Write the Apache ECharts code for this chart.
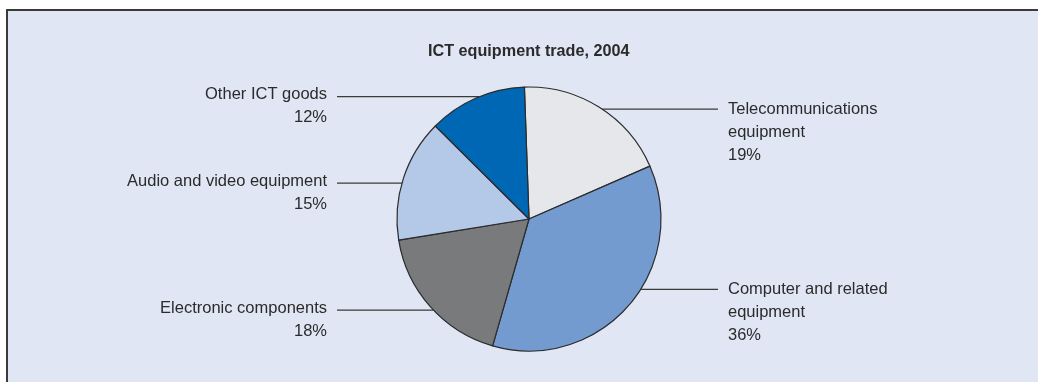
<!DOCTYPE html>
<html>
<head>
<meta charset="utf-8">
<script src="https://cdn.jsdelivr.net/npm/echarts@6/dist/echarts.min.js"></script>
<style>
  html, body { margin: 0; padding: 0; background: #ffffff; width: 1038px; height: 382px; overflow: hidden; }
  #frame { position: absolute; left: 6px; top: 9px; width: 1040px; height: 380px;
           background: #e0e6f4; border-top: 2px solid #3a3a3a; border-left: 2px solid #3a3a3a; }
  #chart { position: absolute; left: 0; top: 0; width: 1038px; height: 382px; }
</style>
</head>
<body>
<div id="frame"></div>
<div id="chart"></div>
<script>
// ---- data ----
const titleText = 'ICT equipment trade, 2004';
const categories = [
  'Telecommunications\nequipment',
  'Computer and related\nequipment',
  'Electronic components',
  'Audio and video equipment',
  'Other ICT goods'
];
const shares = [19, 36, 18, 15, 12];
const sliceColors = ['#e6e7ea', '#739bd0', '#797a7c', '#b4c8e8', '#0067b4'];

// ---- layout (not data) ----
const CX = 529, CY = 219, R = 132;
const leaderAngleShift = [1.4, -9, -2, -2, 1.5]; // degrees, clockwise
const FONT = "'Liberation Sans Narrow', 'Arial Narrow', 'Liberation Sans', sans-serif";
const FS = 16.5, LH = 23;

const chart = echarts.init(document.getElementById('chart'), null, { renderer: 'canvas' });

const option = {
  backgroundColor: 'transparent',
  animation: false,
  title: {
    text: titleText,
    left: 423,
    top: 39,
    textStyle: { fontFamily: FONT, fontSize: 16.2, fontWeight: 'bold', color: '#2b2b2b' }
  },
  series: [{
    type: 'pie',
    center: [CX, CY],
    radius: R,
    startAngle: 92,
    clockwise: true,
    silent: true,
    data: categories.map((c, i) => ({ name: c, value: shares[i], itemStyle: { color: sliceColors[i] } })),
    itemStyle: { borderColor: '#2b2b2b', borderWidth: 1.2 },
    label: {
      show: true,
      position: 'outside',
      formatter: p => p.name + '\n' + p.value + '%',
      fontFamily: FONT,
      fontSize: FS,
      lineHeight: LH,
      color: '#2b2b2b'
    },
    labelLine: { show: true, length: 0, length2: 40, lineStyle: { color: '#3a3a3a', width: 1.3 } },
    labelLayout: function (params) {
      const p0 = params.labelLinePoints[0];
      let a = Math.atan2(p0[1] - CY, p0[0] - CX) + leaderAngleShift[params.dataIndex] * Math.PI / 180;
      const sx = CX + R * Math.cos(a);
      const sy = CY + R * Math.sin(a);
      const isLeft = sx < CX;
      const xEnd = isLeft ? 337 : 718;
      return {
        x: isLeft ? 327 : 728,
        y: sy - LH / 2 + (isLeft ? -2 : 0.5),
        align: isLeft ? 'right' : 'left',
        verticalAlign: 'top',
        labelLinePoints: [[sx, sy], [xEnd, sy], [xEnd, sy]]
      };
    }
  }]
};
chart.setOption(option);
</script>
</body>
</html>
